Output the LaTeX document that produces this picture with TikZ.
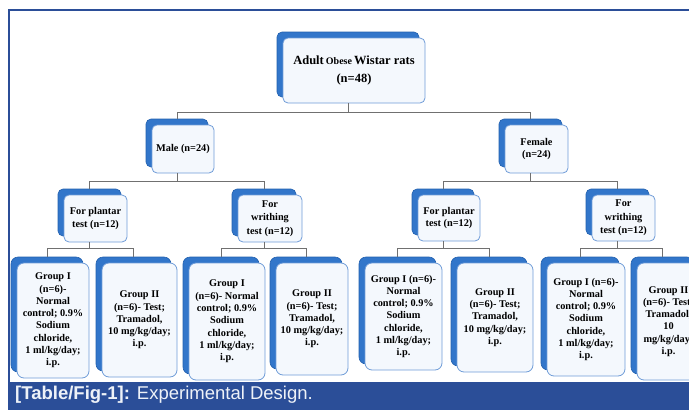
\documentclass[tikz,border=0pt]{standalone}
\usepackage{fontspec}
\setmainfont{Liberation Serif}
\newfontfamily\capfont{Liberation Sans}
\definecolor{framebl}{HTML}{2B4E98}
\definecolor{backbl}{HTML}{3276CA}
\definecolor{backdr}{HTML}{2260AE}
\definecolor{frontbd}{HTML}{6F9CD8}
\definecolor{frontfl}{HTML}{F4F8FD}
\definecolor{conng}{HTML}{707070}
\definecolor{captxt}{HTML}{EEF2F8}
\begin{document}
\begin{tikzpicture}[x=1pt,y=-1pt,
 back/.style={draw=backdr, fill=backbl, rounded corners=5pt, line width=0.6pt, inner sep=0pt},
 front/.style={draw=frontbd, fill=frontfl, rounded corners=5pt, line width=0.8pt, inner sep=0pt, align=center, font=\bfseries\fontsize{10.3}{12.3}\selectfont},
 conn/.style={draw=conng, line width=0.8pt}]
\useasboundingbox (0,0) rectangle (689,410);
\clip (0,0) rectangle (689,410);
% frame and caption bar
\draw[framebl, line width=1.5pt] (689,10) -- (9,10) -- (9,382);
\fill[framebl] (8,382) rectangle (689,410);
\node[anchor=base west, text=captxt, inner sep=0pt] (cap) at (15,399) {\capfont\fontsize{18.5}{20}\selectfont\bfseries [Table/Fig-1]:\hspace{7pt}\mdseries Experimental Design.};
% top
\node[back, minimum width=142pt, minimum height=65pt] (topb) at (348,64.5) {};
\node[front, minimum width=142pt, minimum height=65pt, font=\bfseries\fontsize{12.5}{18}\selectfont] (topf) at (354,70.5) {Adult\,{\fontsize{10}{10}\selectfont Obese}\,Wistar rats\\(n=48)};
% gender
\node[back, minimum width=62pt, minimum height=48pt] (maleb) at (177,143) {};
\node[front, minimum width=62pt, minimum height=48pt] (malef) at (183,149) {Male (n=24)};
\node[back, minimum width=63pt, minimum height=48pt] (femaleb) at (530.5,143) {};
\node[front, minimum width=63pt, minimum height=48pt] (femalef) at (536.5,149) {Female\\(n=24)};
% tests
\node[back, minimum width=63pt, minimum height=47pt] (pmb) at (89.5,212.5) {};
\node[front, minimum width=63pt, minimum height=47pt] (pmf) at (95.5,218.5) {For plantar\\test (n=12)};
\node[back, minimum width=64pt, minimum height=47pt] (wmb) at (264,212.5) {};
\node[front, minimum width=64pt, minimum height=47pt, font=\bfseries\fontsize{10.3}{13.3}\selectfont] (wmf) at (270,218.5) {For\\writhing\\test (n=12)};
\node[back, minimum width=62pt, minimum height=46pt] (pfb) at (443,212) {};
\node[front, minimum width=62pt, minimum height=46pt] (pff) at (449,218) {For plantar\\test (n=12)};
\node[back, minimum width=63pt, minimum height=46pt] (wfb) at (617.5,212) {};
\node[front, minimum width=63pt, minimum height=46pt, font=\bfseries\fontsize{10.3}{13.3}\selectfont] (wff) at (623.5,218) {For\\writhing\\test (n=12)};
% groups
\node[back, minimum width=72pt, minimum height=115pt, rounded corners=7pt] (g1b) at (47,314.5) {};
\node[front, minimum width=72pt, minimum height=115pt, rounded corners=7pt] (g1f) at (53,320.5) {Group I\\(n=6)-\\Normal\\control; 0.9\%\\Sodium\\chloride,\\1 ml/kg/day;\\i.p.};
\node[back, minimum width=75pt, minimum height=114pt, rounded corners=7pt] (g2b) at (133.5,314) {};
\node[front, minimum width=75pt, minimum height=114pt, rounded corners=7pt] (g2f) at (139.5,320) {Group II\\(n=6)- Test;\\Tramadol,\\10 mg/kg/day;\\i.p.};
\node[back, minimum width=76pt, minimum height=117pt, rounded corners=7pt] (g3b) at (221,315.5) {};
\node[front, minimum width=76pt, minimum height=117pt, rounded corners=7pt] (g3f) at (227,321.5) {Group I\\(n=6)- Normal\\control; 0.9\%\\Sodium\\chloride,\\1 ml/kg/day;\\i.p.};
\node[back, minimum width=72pt, minimum height=112pt, rounded corners=7pt] (g4b) at (306,313) {};
\node[front, minimum width=72pt, minimum height=112pt, rounded corners=7pt] (g4f) at (312,319) {Group II\\(n=6)- Test;\\Tramadol,\\10 mg/kg/day;\\i.p.};
\node[back, minimum width=77pt, minimum height=107pt, rounded corners=7pt] (g5b) at (397.5,310.5) {};
\node[front, minimum width=77pt, minimum height=107pt, rounded corners=7pt] (g5f) at (403.5,316.5) {Group I (n=6)-\\Normal\\control; 0.9\%\\Sodium\\chloride,\\1 ml/kg/day;\\i.p.};
\node[back, minimum width=76pt, minimum height=109pt, rounded corners=7pt] (g6b) at (489,311.5) {};
\node[front, minimum width=76pt, minimum height=109pt, rounded corners=7pt] (g6f) at (495,317.5) {Group II\\(n=6)- Test;\\Tramadol,\\10 mg/kg/day;\\i.p.};
\node[back, minimum width=78pt, minimum height=113pt, rounded corners=7pt] (g7b) at (580,313.5) {};
\node[front, minimum width=78pt, minimum height=113pt, rounded corners=7pt] (g7f) at (586,319.5) {Group I (n=6)-\\Normal\\control; 0.9\%\\Sodium\\chloride,\\1 ml/kg/day;\\i.p.};
\node[back, minimum width=63pt, minimum height=117pt, rounded corners=7pt] (g8b) at (662.5,315.5) {};
\node[front, minimum width=63pt, minimum height=117pt, rounded corners=7pt] (g8f) at (668.5,321.5) {Group II\\(n=6)- Test;\\Tramadol,\\10\\mg/kg/day;\\i.p.};
% connectors
\draw[conn] (topf.south -| topb.north) -- (topb.north |- 0,112);
\draw[conn] (maleb.north) -- (maleb.north |- 0,112) -- (femaleb.north |- 0,112) -- (femaleb.north);
\draw[conn] (malef.south -| maleb.north) -- (maleb.north |- 0,181);
\draw[conn] (pmb.north) -- (pmb.north |- 0,181) -- (wmb.north |- 0,181) -- (wmb.north);
\draw[conn] (femalef.south -| femaleb.north) -- (femaleb.north |- 0,181);
\draw[conn] (pfb.north) -- (pfb.north |- 0,181) -- (wfb.north |- 0,181) -- (wfb.north);
\draw[conn] (pmf.south -| pmb.north) -- (pmb.north |- 0,248);
\draw[conn] (g1b.north) -- (g1b.north |- 0,248) -- (g2b.north |- 0,248) -- (g2b.north);
\draw[conn] (wmf.south -| wmb.north) -- (wmb.north |- 0,248);
\draw[conn] (g3b.north) -- (g3b.north |- 0,248) -- (g4b.north |- 0,248) -- (g4b.north);
\draw[conn] (pff.south -| pfb.north) -- (pfb.north |- 0,248);
\draw[conn] (g5b.north) -- (g5b.north |- 0,248) -- (g6b.north |- 0,248) -- (g6b.north);
\draw[conn] (wff.south -| wfb.north) -- (wfb.north |- 0,248);
\draw[conn] (g7b.north) -- (g7b.north |- 0,248) -- (g8b.north |- 0,248) -- (g8b.north);
\end{tikzpicture}
\end{document}
